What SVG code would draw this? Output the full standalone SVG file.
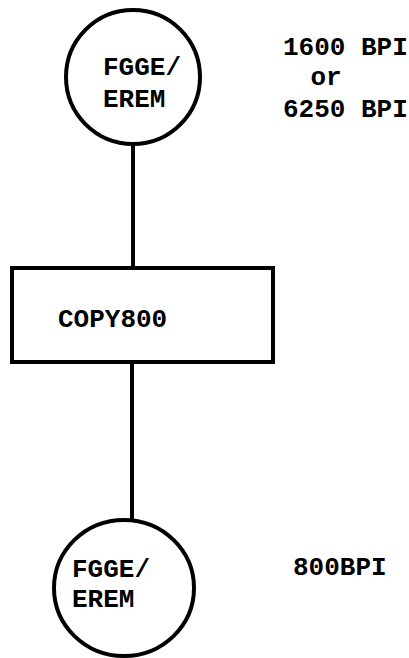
<svg xmlns="http://www.w3.org/2000/svg" width="409" height="658" viewBox="0 0 409 658">
<style>
.shape{fill:none;stroke:#000;stroke-width:4}
.t{font-family:"Liberation Mono","Courier New",monospace;font-weight:bold;font-size:26px;fill:#000}
</style>
<rect width="409" height="658" fill="#fff"/>
<g id="connectors">
<line class="shape" x1="133" y1="144" x2="133" y2="268"/>
<line class="shape" x1="132" y1="362" x2="132" y2="519"/>
</g>
<g id="tape-in">
<circle class="shape" cx="133" cy="77" r="67"/>
<text class="t" x="103" y="75">FGGE/</text>
<text class="t" x="103" y="107">EREM</text>
</g>
<g id="copy800">
<rect class="shape" x="12" y="268" width="261" height="94"/>
<text class="t" x="58" y="327">COPY800</text>
</g>
<g id="tape-out">
<ellipse class="shape" cx="124" cy="588" rx="70" ry="68"/>
<text class="t" x="72" y="577">FGGE/</text>
<text class="t" x="72" y="607">EREM</text>
</g>
<g id="labels">
<text class="t" x="283" y="55">1600 BPI</text>
<text class="t" x="326" y="85" text-anchor="middle">or</text>
<text class="t" x="283" y="117">6250 BPI</text>
<text class="t" x="293" y="575">800BPI</text>
</g>
</svg>
